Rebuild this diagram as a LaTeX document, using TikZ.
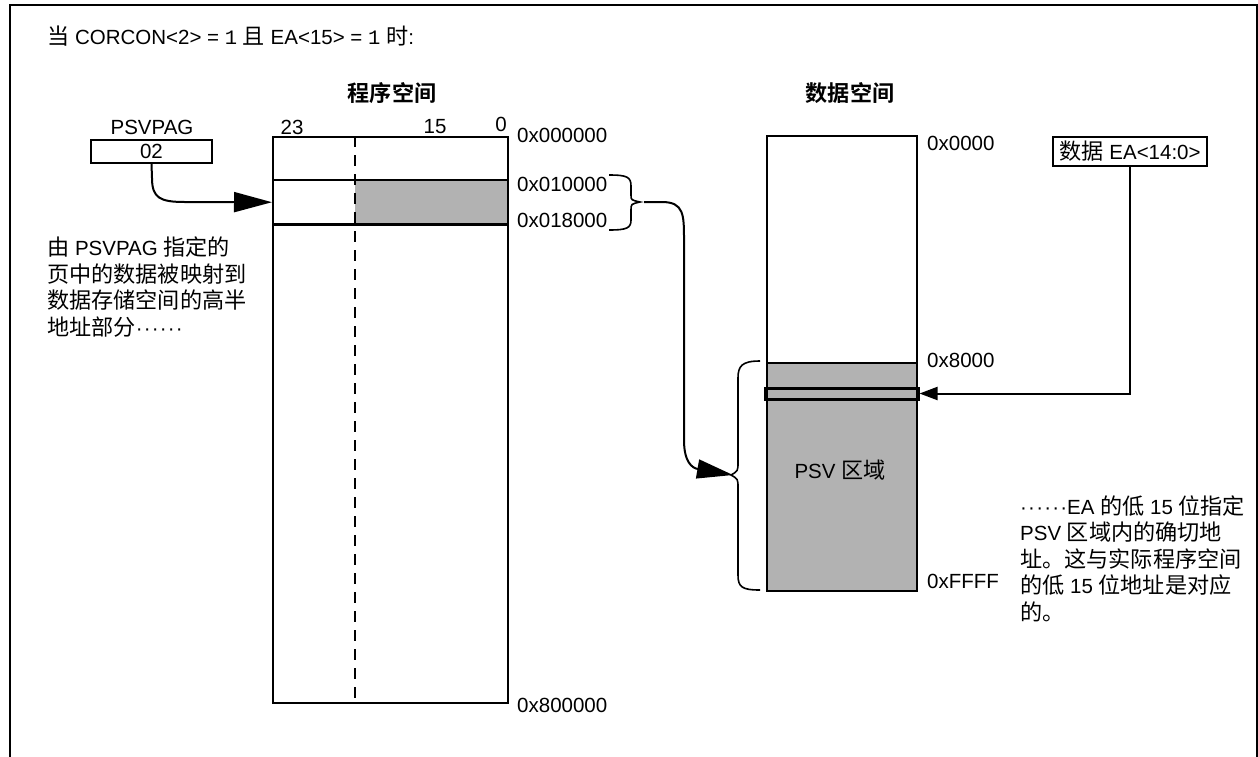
\documentclass[tikz,border=0pt]{standalone}
\usepackage{fontspec}
\setmainfont{Liberation Sans}
\newfontfamily\cjk{Noto Sans CJK SC}[Scale=1.08,BoldFont={Noto Sans CJK SC Bold}]
\newfontfamily\mono{Liberation Mono}
\usetikzlibrary{arrows.meta}
\newcommand{\middots}{·\kern1.2pt·\kern1.2pt·\kern1.2pt·\kern1.2pt·\kern1.2pt·}
\begin{document}
\begin{tikzpicture}[x=1pt,y=-1pt,
  every node/.style={inner sep=0pt, font=\fontsize{20.5}{26.5}\selectfont},
  boxline/.style={line width=2.4pt},
  conn/.style={line width=2pt},
  bracestyle/.style={line width=1.6pt},
  psvgray/.style={fill=black!30}]
\useasboundingbox (0,0) rectangle (1258,756);
\clip (0,0) rectangle (1258,756);
% frame
\draw[line width=2.6pt] (10,770) -- (10,5) -- (1257,5) -- (1257,770);
% condition line
\node[anchor=west] (cond) at (47,36) {{\cjk 当} CORCON<2> = {\mono 1} {\cjk 且} EA<15> = {\mono 1} {\cjk 时}:};
% titles
\node[font=\fontsize{20.5}{26}\selectfont\cjk\bfseries] (ptitle) at (392,93) {程序空间};
\node[font=\fontsize{20.5}{26}\selectfont\cjk\bfseries] (dtitle) at (850,93) {数据空间};
% PSVPAG
\node (psvlbl) at (152,127) {PSVPAG};
\node[draw, conn, minimum width=121pt, minimum height=23pt] (psv) at (151.5,151.5) {02};
% program space
\fill[psvgray] (355,180) rectangle (507,224);
\node[draw, boxline, minimum width=235pt, minimum height=566pt, anchor=north west] (prog) at (272,136) {};
\node[minimum width=235pt, minimum height=44pt, anchor=north west] (page) at (272,180) {};
\draw[boxline] (page.north west) -- (page.north east) (page.south west) -- (page.south east);
\draw[boxline, dash pattern=on 11pt off 8pt] (355,136) -- (355,702);
\node (b23) at (292,127) {23};
\node (b15) at (435,127) {15};
\node (b0) at (501,124) {0};
\node[anchor=west] (a0) at (517,135) {0x000000};
\node[anchor=west] (a1) at (517,184) {0x010000};
\node[anchor=west] (a2) at (517,220) {0x018000};
\node[anchor=west] (a3) at (517,705) {0x800000};
% left text
\node[anchor=west, align=left] (ltext) at (47,287) {{\cjk 由} PSVPAG {\cjk 指定的}\\{\cjk 页中的数据被映射到}\\{\cjk 数据存储空间的高半}\\{\cjk 地址部分}\middots};
% arrow PSVPAG -> page
\draw[conn, -{Triangle[length=38pt,width=20pt]}] (psv.south) -- (152,178) .. controls (152,198) and (160,202) .. (185,202) -- (page.west);
% brace 1
\draw[bracestyle] (609,175) .. controls (627,175) and (631,177) .. (631,186) -- (631,195) .. controls (631,200) .. (640,202) .. controls (631,204) .. (631,210) -- (631,220) .. controls (631,228) and (627,230) .. (609,230);
\coordinate (b1tip) at (644,202);
% data space
\fill[psvgray] (766,363) rectangle (916,590);
\node[draw, boxline, minimum width=150pt, minimum height=455pt, anchor=north west] (data) at (766,135) {};
\draw[boxline] (766,363) -- (916,363);
\node[draw, line width=3pt, minimum width=153pt, minimum height=11pt] (slot) at (841.5,393.5) {};
\node (psvr) at (840,470) {PSV {\cjk 区域}};
\node[anchor=west] (d0) at (927,143) {0x0000};
\node[anchor=west] (d1) at (927,360) {0x8000};
\node[anchor=west] (d2) at (927,581) {0xFFFF};
% brace 2
\draw[bracestyle] (760,361) .. controls (742,361) and (738,366) .. (738,378) -- (738,462) .. controls (738,471) .. (731,475) .. controls (738,479) .. (738,488) -- (738,575) .. controls (738,587) and (742,590) .. (760,590);
\coordinate (b2tip) at (733,475);
% arrow brace1 -> brace2
\draw[conn, -{Triangle[length=36pt,width=19pt]}] (b1tip) -- (662,202) .. controls (684,202) and (684,215) .. (684,240) -- (684,440) .. controls (684,462) and (692,468) .. (b2tip);
% EA box
\node[draw, conn, minimum width=154pt, minimum height=29pt] (ea) at (1130,151.5) {{\cjk 数据} EA<14:0>};
\draw[conn, -{Triangle[length=18pt,width=13pt]}] (ea.south) |- (slot.east);
% right text
\node[anchor=west, align=left] (rtext) at (1020,558.5) {\middots EA {\cjk 的低} 15 {\cjk 位指定}\\PSV {\cjk 区域内的确切地}\\{\cjk 址。这与实际程序空间}\\{\cjk 的低} 15 {\cjk 位地址是对应}\\{\cjk 的。}};
\end{tikzpicture}
\end{document}
